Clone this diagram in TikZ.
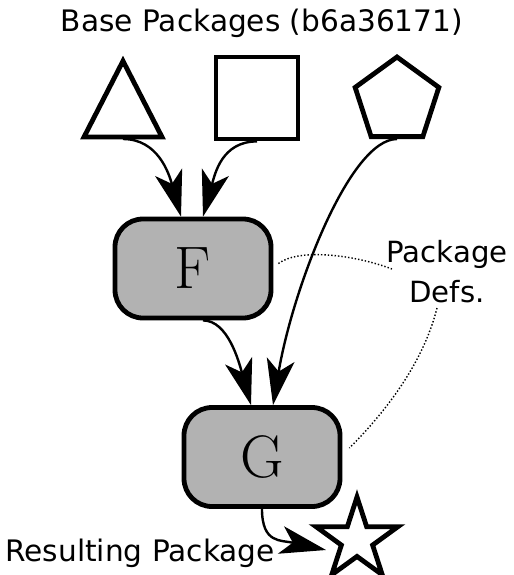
\documentclass[tikz,border=0pt]{standalone}
\usepackage{fontspec}
\newfontfamily\labelfont{DejaVu Sans}
\usetikzlibrary{arrows.meta,shapes.geometric}
\begin{document}
\begin{tikzpicture}[x=0.5pt,y=-0.5pt,
  outline/.style={draw=black, line width=2.4pt, fill=white, inner sep=0pt},
  pkg/.style={draw=black, line width=2.4pt, fill=black!30, rounded corners=14pt,
    minimum width=78pt, minimum height=49.5pt, inner sep=0pt,
    font=\fontsize{30}{36}\selectfont},
  flow/.style={line width=1.2pt, -{Stealth[length=23pt,width=14pt,inset=6pt]}},
  note/.style={line width=0.7pt, densely dotted},
  lbl/.style={inner sep=0pt, font=\labelfont\fontsize{14.8}{20}\selectfont}
]
\useasboundingbox (0,0) rectangle (514,575);

% heading
\node[lbl, anchor=base] (title) at (262,31) {Base Packages (b6a36171)};

% the three base packages
\draw[outline, line join=miter] (123,61) -- (84,137) -- (162,137) -- cycle;
\coordinate (tri) at (123,139);
\node[outline, minimum size=41pt] (sq) at (257,98) {};
\node[outline, regular polygon, regular polygon sides=5, minimum size=44pt]
  (pent) at (397,101) {};

% package definitions
\node[pkg] (F) at (193,268.5) {F};
\node[pkg] (G) at (262,457) {G};

% resulting package
\node[outline, star, star points=5, star point ratio=2.618, minimum size=43pt]
  (star) at (357,540) {};
\path (star.center) ++(-31,10) coordinate (starin);

% dependency arrows
\draw[flow] (tri) .. controls +(35,0) and +(-12,-43) .. ([xshift=-6pt]F.north);
\draw[flow] (sq.south) .. controls +(-35,0) and +(12,-43) .. ([xshift=5pt]F.north);
\draw[flow] ([xshift=5pt]F.south) .. controls +(25,0) and +(-12,-43) .. ([xshift=-5.5pt]G.north);
\draw[flow] (pent.south) .. controls +(-47,0) and +(20,-118) .. ([xshift=5.5pt]G.north);
\draw[flow] (G.south) .. controls +(0,35) and +(-45,-10) .. (starin);

% labels
\node[lbl, anchor=base west] (result) at (5,561) {Resulting Package};
\node[lbl, font=\labelfont\fontsize{14.6}{20}\selectfont, align=center, anchor=base]
  (defs) at (447,302) {Package\\Defs.};

% annotation leaders
\coordinate (noteA) at (392,269);
\coordinate (noteB) at (437,308);
\draw[note] ([shift={(5,-5)}]F.east) .. controls +(20,-15) and +(-40,-15) .. (noteA);
\draw[note] (noteB) .. controls +(-15,60) and +(30,-30) .. ([shift={(7,-9)}]G.east);
\end{tikzpicture}
\end{document}
